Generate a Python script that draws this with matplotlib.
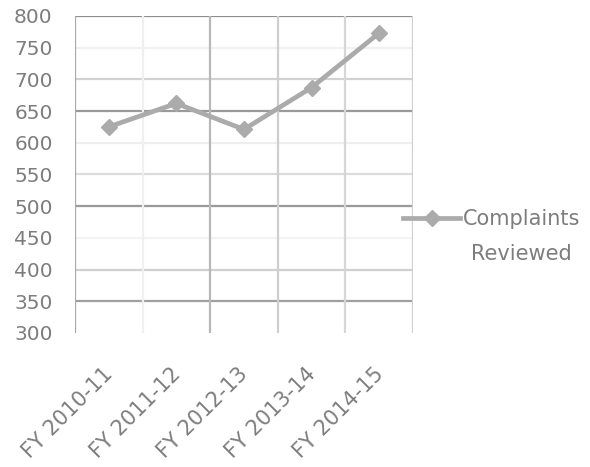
import matplotlib.pyplot as plt
import matplotlib.transforms as mtransforms
from matplotlib.legend_handler import HandlerLine2D

# Complaints reviewed per fiscal year
fiscal_years = ["FY 2010-11", "FY 2011-12", "FY 2012-13", "FY 2013-14", "FY 2014-15"]
complaints_reviewed = [625, 662, 621, 687, 773]
y_ticks = [300, 350, 400, 450, 500, 550, 600, 650, 700, 750, 800]

text_gray = "#7d7d7d"
line_gray = "#ababab"


class RaisedLineHandler(HandlerLine2D):
    """Legend handle drawn level with the first line of a two-line label."""

    def __init__(self, raise_pts, **kw):
        super().__init__(**kw)
        self.raise_pts = raise_pts

    def create_artists(self, legend, orig_handle, xdescent, ydescent,
                       width, height, fontsize, trans):
        return super().create_artists(legend, orig_handle, xdescent,
                                      ydescent - 2 * self.raise_pts,
                                      width, height, fontsize, trans)


fig = plt.figure(figsize=(5.90, 4.67), dpi=100)
ax = fig.add_axes([0.127, 0.287, 0.573, 0.679])

ax.set_xlim(-0.5, len(fiscal_years) - 0.5)
ax.set_ylim(300, 800)

# Horizontal gridlines of uneven strength
grid_shade = {800: "#8f8f8f", 650: "#9a9a9a", 500: "#9a9a9a", 350: "#a0a0a0",
              700: "#d2d2d2", 550: "#dcdcdc", 400: "#d0d0d0",
              750: "#f1f1f1", 600: "#eeeeee", 450: "#f3f3f3"}
for v, c in grid_shade.items():
    ax.axhline(v, color=c, lw=1.6, zorder=1)

# Vertical gridlines on category boundaries
v_shade = ["#a8a8a8", "#f0f0f0", "#b8b8b8", "#cfcfcf", "#d6d6d6", "#d0d0d0"]
for i, c in enumerate(v_shade):
    ax.axvline(i - 0.5, color=c, lw=1.6, zorder=1)

line, = ax.plot(range(len(fiscal_years)), complaints_reviewed, color=line_gray,
                lw=3.4, marker="D", ms=8.5, mfc=line_gray, mec=line_gray,
                label="Complaints\nReviewed", zorder=3)

for s in ax.spines.values():
    s.set_visible(False)

ax.set_yticks(y_ticks)
ax.set_yticklabels([str(t) for t in y_ticks])
ax.set_xticks(range(len(fiscal_years)))
ax.set_xticklabels(fiscal_years, rotation=45, ha="right", rotation_mode="anchor")
ax.tick_params(axis="y", length=0, pad=16, labelsize=14.5, labelcolor=text_gray)
ax.tick_params(axis="x", length=0, pad=22, labelsize=15, labelcolor=text_gray)

shift = mtransforms.ScaledTranslation(-6 / 100, 0, fig.dpi_scale_trans)
for lab in ax.get_xticklabels():
    lab.set_transform(lab.get_transform() + shift)

leg = ax.legend(handles=[line], loc="upper left",
                bbox_to_anchor=(403 / 590, 1 - 209 / 467),
                bbox_transform=fig.transFigure, frameon=False,
                borderpad=0, borderaxespad=0,
                handlelength=2.75, handletextpad=0.12, fontsize=15,
                labelcolor=text_gray,
                handler_map={line: RaisedLineHandler(14, marker_pad=0.3)})
for t in leg.get_texts():
    t.set_multialignment("center")
    t.set_linespacing(1.95)

fig.savefig("out.png", dpi=100, facecolor="white")
